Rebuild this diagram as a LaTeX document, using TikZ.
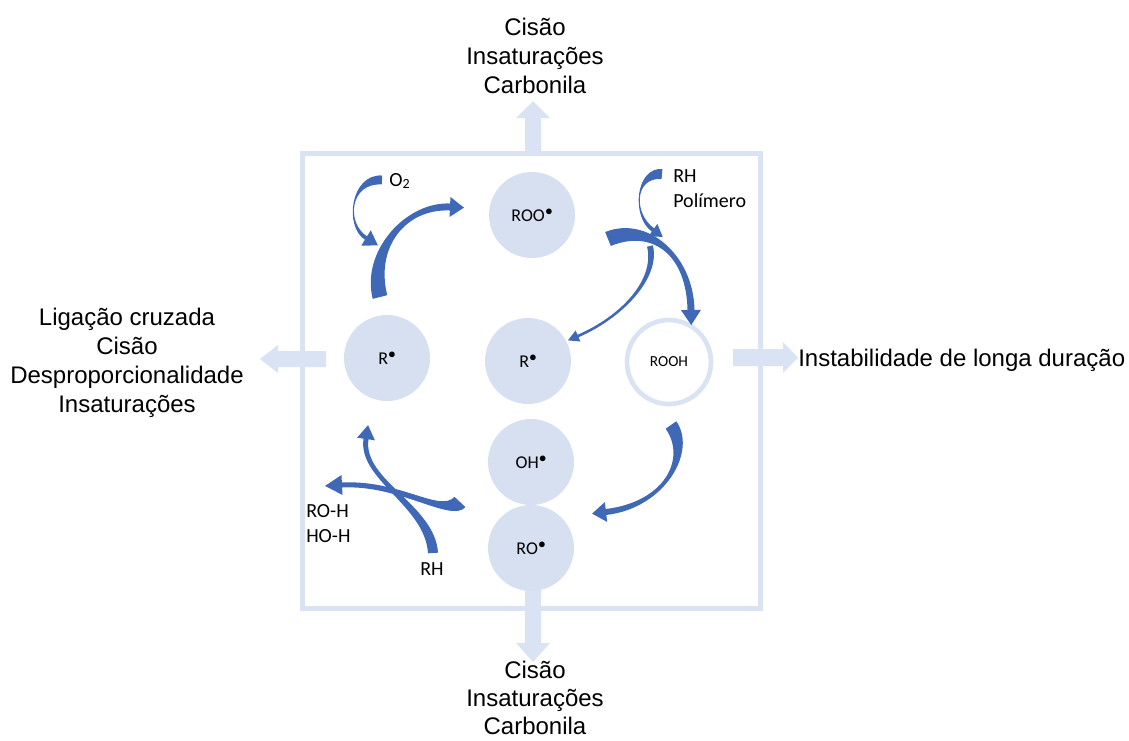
\documentclass[tikz,border=0pt]{standalone}
\usepackage{fontspec}
\setmainfont{Liberation Sans}
\newfontfamily\calfont{Carlito}
\definecolor{lb}{HTML}{DAE3F3}
\definecolor{cf}{HTML}{D7E0F1}
\definecolor{ab}{HTML}{3F69B6}
\newcommand\dotr{\kern0.02em\raisebox{0.32em}{\fontsize{11}{11}\selectfont$\bullet$}}
\def\TAsw{2.5}\def\TAhw{8}\def\TAhl{14}
\newcommand\taparrow[9]{%
 \pgfmathsetmacro\TAdxa{(#3)-(#1)}%
 \pgfmathsetmacro\TAdya{(#4)-(#2)}%
 \pgfmathsetmacro\TAla{10*sqrt((\TAdxa/10)^2+(\TAdya/10)^2)}%
 \pgfmathsetmacro\TAnxa{-(\TAdya)/\TAla*(#9)}%
 \pgfmathsetmacro\TAnya{(\TAdxa)/\TAla*(#9)}%
 \pgfmathsetmacro\TAdxb{(#7)-(#5)}%
 \pgfmathsetmacro\TAdyb{(#8)-(#6)}%
 \pgfmathsetmacro\TAlb{10*sqrt((\TAdxb/10)^2+(\TAdyb/10)^2)}%
 \pgfmathsetmacro\TAux{(\TAdxb)/\TAlb}%
 \pgfmathsetmacro\TAuy{(\TAdyb)/\TAlb}%
 \fill[arrowfill]
  ({#1+(\TAnxa)},{#2+(\TAnya)}) .. controls ({#3+(\TAnxa)},{#4+(\TAnya)}) and ({#5-(\TAuy)*\TAsw},{#6+(\TAux)*\TAsw}) .. ({#7-(\TAuy)*\TAsw},{#8+(\TAux)*\TAsw})
  -- ({#7-(\TAuy)*\TAhw},{#8+(\TAux)*\TAhw}) -- ({#7+(\TAux)*\TAhl},{#8+(\TAuy)*\TAhl}) -- ({#7+(\TAuy)*\TAhw},{#8-(\TAux)*\TAhw}) -- ({#7+(\TAuy)*\TAsw},{#8-(\TAux)*\TAsw})
  .. controls ({#5+(\TAuy)*\TAsw},{#6-(\TAux)*\TAsw}) and ({#3-(\TAnxa)},{#4-(\TAnya)}) .. ({#1-(\TAnxa)},{#2-(\TAnya)}) -- cycle;
}
\begin{document}
\begin{tikzpicture}[x=0.75pt,y=-0.75pt,
  arrowfill/.style={fill=ab},
  blockarrow/.style={fill=lb},
  big/.style={font=\fontsize{18}{21}\selectfont, inner sep=0pt, anchor=base},
  small/.style={font=\calfont\fontsize{15}{18}\selectfont, inner sep=0pt, anchor=base west},
  radical/.style={circle, fill=cf, minimum size=64.5pt, inner sep=0pt, font=\calfont\fontsize{13.5}{15}\selectfont},
]
\useasboundingbox (0,0) rectangle (1129,740);
% frame
\draw[lb, line width=3.75pt] (302,153) rectangle (760,608);
% block arrows
\fill[blockarrow] (525,153) -- (525,118) -- (516,118) -- (533,101) -- (550,118) -- (541,118) -- (541,153) -- cycle;
\fill[blockarrow] (525,590) -- (525,643) -- (516,643) -- (533,662) -- (550,643) -- (541,643) -- (541,590) -- cycle;
\fill[blockarrow] (326,351) -- (278,351) -- (278,345) -- (260,359) -- (278,373) -- (278,367) -- (326,367) -- cycle;
\fill[blockarrow] (733,349) -- (783,349) -- (783,342) -- (798,357.5) -- (783,373) -- (783,366) -- (733,366) -- cycle;
% radicals
\node[radical] (roo) at (532,215) {ROO\dotr};
\node[radical] (rl) at (387,358) {R\dotr};
\node[radical] (rm) at (528,361) {R\dotr};
\node[radical] (oh) at (531,462) {OH\dotr};
\node[radical] (ro) at (531,548) {RO\dotr};
\node[circle, draw=lb, line width=3.5pt, fill=white, minimum size=63pt, inner sep=0pt, font=\calfont\fontsize{11.5}{13}\selectfont] (rooh) at (669,362) {ROOH};
% curved arrows
\def\TAsw{2}\def\TAhw{9}\def\TAhl{14}
\taparrow{382}{180}{350}{178}{345}{225}{366}{238}{4.5}
\def\TAsw{3.5}\def\TAhw{10}\def\TAhl{14}
\taparrow{380}{297}{368}{250}{405}{205}{450}{207}{7.5}
\def\TAsw{2}\def\TAhw{7.5}\def\TAhl{12}
\taparrow{662}{174}{635}{172}{632}{215}{653}{230}{5}
\def\TAsw{3.5}\def\TAhw{10}\def\TAhl{15}
\taparrow{608}{239}{650}{222}{690}{255}{691}{310}{7.5}
\def\TAsw{1.3}\def\TAhw{6}\def\TAhl{11}
\taparrow{650}{246}{658}{280}{620}{318}{578}{336}{3}
\def\TAsw{3}\def\TAhw{10}\def\TAhl{14}
\taparrow{671}{425}{692}{455}{665}{505}{606}{512}{6.5}
\def\TAsw{2.5}\def\TAhw{10}\def\TAhl{17}
\taparrow{460}{502}{445}{518}{400}{482}{342}{485}{7.5}
\def\TAsw{2.5}\def\TAhw{9}\def\TAhl{14}
\taparrow{433}{553}{430}{505}{360}{480}{366}{439}{5}
% small labels
\node[small] (o2) at (389,186) {O\textsubscript{2}};
\node[small] (rh1) at (673,182) {RH};
\node[small] (pol) at (673,207) {Polímero};
\node[small] (roh) at (306,517) {RO-H};
\node[small] (hoh) at (306,542) {HO-H};
\node[small] (rh2) at (420,575) {RH};
% big labels
\node[big] (t1) at (535,35) {Cisão};
\node[big] (t2) at (535,64.5) {Insaturações};
\node[big] (t3) at (535,93) {Carbonila};
\node[big] (b1) at (535,678) {Cisão};
\node[big] (b2) at (535,706) {Insaturações};
\node[big] (b3) at (535,734) {Carbonila};
\node[big] (l1) at (127,325) {Ligação cruzada};
\node[big] (l2) at (127,354) {Cisão};
\node[big] (l3) at (127,383) {Desproporcionalidade};
\node[big] (l4) at (127,412) {Insaturações};
\node[big, anchor=base west] (r1) at (798,366) {Instabilidade de longa duração};
\end{tikzpicture}
\end{document}
